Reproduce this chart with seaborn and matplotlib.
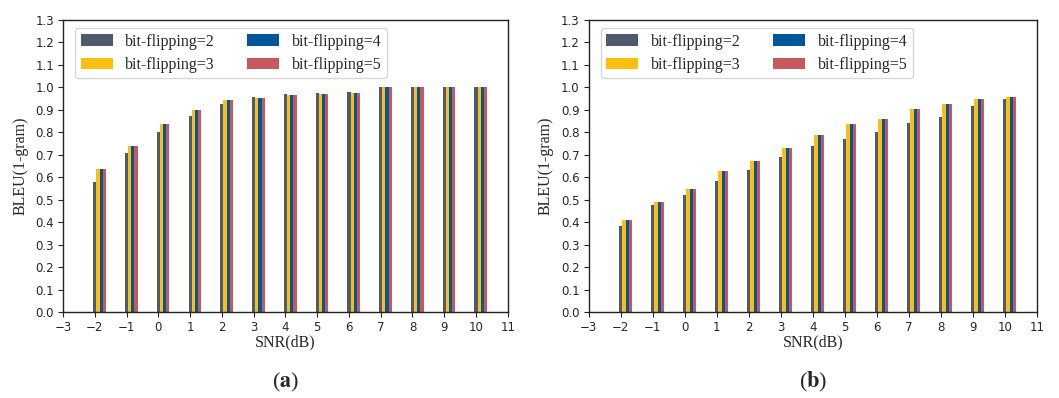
import numpy as np
import pandas as pd
import matplotlib
matplotlib.use("Agg")
import matplotlib.pyplot as plt
import seaborn as sns

# --------------------------------------------------------------
# datos
# --------------------------------------------------------------
snr = [-2, -1, 0, 1, 2, 3, 4, 5, 6, 7, 8, 9, 10]
series = ["bit-flipping=2", "bit-flipping=3", "bit-flipping=4", "bit-flipping=5"]

a_bf2 = [0.578, 0.708, 0.800, 0.872, 0.926, 0.957, 0.970, 0.975, 0.980, 1.0, 1.0, 1.0, 1.0]
a_bf3 = [0.636, 0.738, 0.837, 0.898, 0.943, 0.952, 0.965, 0.970, 0.975, 1.0, 1.0, 1.0, 1.0]
a_bf4 = [0.636, 0.738, 0.837, 0.898, 0.943, 0.952, 0.965, 0.970, 0.975, 1.0, 1.0, 1.0, 1.0]
a_bf5 = [0.636, 0.738, 0.837, 0.898, 0.943, 0.952, 0.965, 0.970, 0.975, 1.0, 1.0, 1.0, 1.0]

b_bf2 = [0.385, 0.475, 0.520, 0.582, 0.632, 0.689, 0.739, 0.770, 0.800, 0.840, 0.869, 0.916, 0.948]
b_bf3 = [0.408, 0.488, 0.547, 0.627, 0.672, 0.729, 0.787, 0.836, 0.860, 0.903, 0.925, 0.948, 0.957]
b_bf4 = [0.408, 0.488, 0.547, 0.627, 0.672, 0.729, 0.787, 0.836, 0.860, 0.903, 0.925, 0.948, 0.957]
b_bf5 = [0.408, 0.488, 0.547, 0.627, 0.672, 0.729, 0.787, 0.836, 0.860, 0.903, 0.925, 0.948, 0.957]

colores = ["#4f5a6d", "#fbbf10", "#02569b", "#c7585b"]
x_ticks = list(range(-3, 12))
y_ticks = [round(0.1 * i, 1) for i in range(14)]

sns.set_style("ticks")
plt.rcParams["mathtext.fontset"] = "stix"

fig = plt.figure(figsize=(10.59, 3.98), dpi=100)
ax_a = fig.add_axes([0.0595, 0.216, 0.420, 0.734])
ax_b = fig.add_axes([0.556, 0.216, 0.423, 0.734])

serif = "Liberation Serif"


def dibujar(ax, valores, letra):
    for i, (nombre, vals) in enumerate(zip(series, valores)):
        df = pd.DataFrame({"pos": np.array(snr) + 0.1 * i, "bleu": vals})
        sns.barplot(data=df, x="pos", y="bleu", native_scale=True, width=0.1,
                    color=colores[i], label=nombre, ax=ax, saturation=1,
                    linewidth=0, errorbar=None)
    ax.set_xlim(-3, 11)
    ax.set_ylim(0, 1.3)
    ax.set_xticks(x_ticks)
    ax.set_xticklabels([str(t).replace("-", "\u2212") for t in x_ticks], fontsize=8.5)
    ax.set_yticks(y_ticks)
    ax.set_yticklabels([f"{t:.1f}" for t in y_ticks], fontsize=8.5)
    ax.set_xlabel("SNR(dB)", fontsize=11.5, family=serif, labelpad=0)
    ax.set_ylabel("BLEU(1-gram)", fontsize=11.5, family=serif, labelpad=5)
    for s in ax.spines.values():
        s.set_color("#222222")
        s.set_linewidth(1.0)
    ax.tick_params(length=3.5, width=0.8, color="#222222", pad=3)
    ax.legend(ncol=2, loc="upper left", bbox_to_anchor=(0.027, 0.972),
              borderaxespad=0, prop={"family": serif, "size": 11.5},
              frameon=True, fancybox=True, handlelength=2.0, handleheight=0.7,
              handletextpad=0.8, columnspacing=2.0, borderpad=0.35,
              labelspacing=0.45, edgecolor="#cccccc")
    ax.text(0.5, -0.24, "(" + r"$\mathbf{" + letra + "}$" + ")", transform=ax.transAxes,
            ha="center", va="center", fontsize=16, family=serif)


dibujar(ax_a, [a_bf2, a_bf3, a_bf4, a_bf5], "a")
dibujar(ax_b, [b_bf2, b_bf3, b_bf4, b_bf5], "b")

fig.savefig("out.png", dpi=100)
plt.close(fig)
